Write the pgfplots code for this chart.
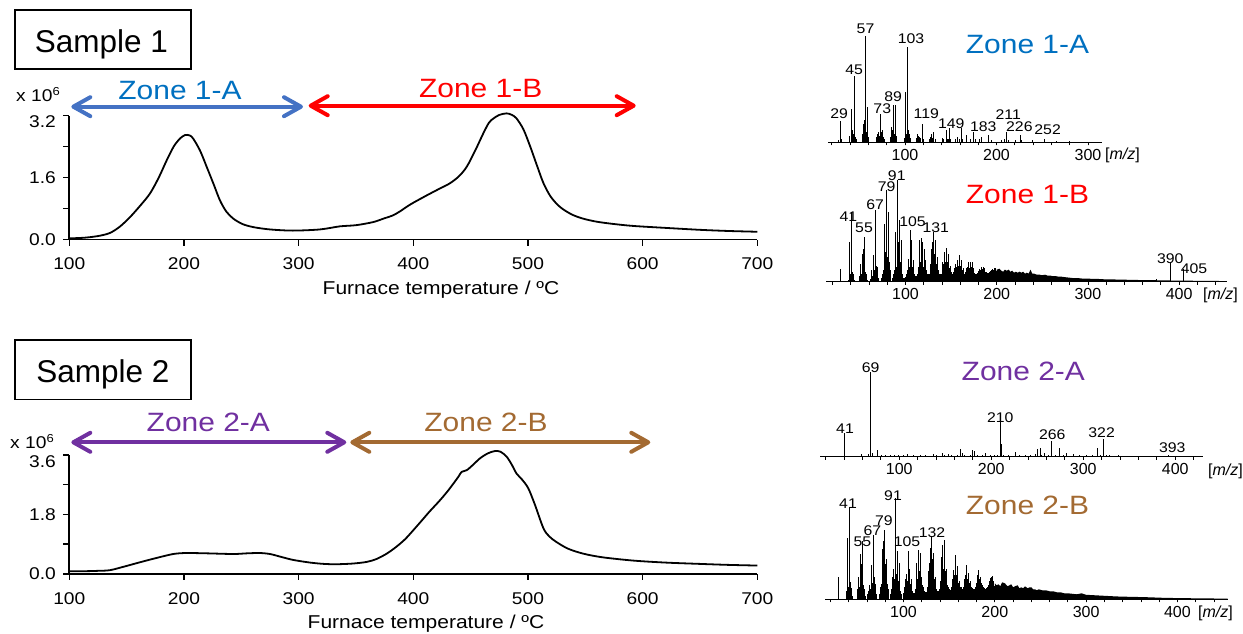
\documentclass[border=0pt]{standalone}
\usepackage{fontspec}
\setmainfont{Liberation Sans}
\newfontfamily\wide[FakeStretch=1.13]{Liberation Sans}
\usepackage{pgfplots}
\pgfplotsset{compat=1.18}
\usetikzlibrary{arrows.meta}

\definecolor{zoneblue}{RGB}{0,112,192}
\definecolor{arrowblue}{RGB}{68,114,196}
\definecolor{zonered}{RGB}{255,0,0}
\definecolor{zonepurple}{RGB}{112,48,160}
\definecolor{zonebrown}{RGB}{163,106,50}

\newcommand{\fs}[1]{\fontsize{#1}{#1}\selectfont}
\newcommand{\low}[2]{\raisebox{-#1}[\height][0pt]{#2}}

\pgfplotsset{
  tga/.style={
    scale only axis, width=688pt, anchor=south west, clip=false,
    xmin=100, xmax=700, ymin=0,
    axis x line=bottom, axis y line=left,
    axis line style={-, line width=1.7pt},
    tick align=outside, major tick length=6pt, minor tick length=6pt,
    tick style={black, line width=1.5pt},
    xtick={100,200,...,700},
    xticklabels={100,200,300,400,500,600,700},
    xticklabel style={anchor=north, inner sep=0pt, yshift=-12.3pt, font=\wide\fs{17}},
    yticklabel style={anchor=east, inner sep=0pt, xshift=-7.3pt, font=\wide\fs{17}},
  },
  ms/.style={
    scale only axis, anchor=south west, ymin=0, clip=false,
    axis x line=bottom, axis y line=none,
    axis line style={-, line width=1.2pt},
    tick align=outside, major tick length=3pt, minor tick length=3pt,
    tick style={black, line width=0.8pt},
    minor xtick={20,40,...,440},
    xticklabel style={anchor=north, inner sep=0pt, yshift=-3.5pt, font=\fs{16}},
  },
  stick/.style={ycomb, black, line width=0.9pt},
}
\tikzset{peak/.style={anchor=base, inner sep=0pt, font=\wide\fs{14}}}

\newcommand{\zone}[4]{\node[anchor=base, inner sep=0pt, font=\wide\fs{26.5}, text=#1] at (#2pt,#3pt) {#4};}
\newcommand{\mz}[2]{\node[anchor=base west, inner sep=0pt, font=\fs{16}] at (#1pt,#2pt) {[\textit{m/z}]};}
\newcommand{\zarrow}[4]{\draw[#1, line width=4pt,
  {Straight Barb[length=17pt,width=19pt,round]}-{Straight Barb[length=17pt,width=19pt,round]}]
  (#2pt,#4pt) -- (#3pt,#4pt);}

\begin{document}
\begin{tikzpicture}
\useasboundingbox (0,0) rectangle (1243pt,633pt);

% ---------------- Sample 1 : evolved gas curve ----------------
\draw[line width=1.6pt] (15pt,563.7pt) rectangle (191pt,623pt);
\node[anchor=base, inner sep=0pt, font=\fs{31.5}] at (101.5pt,580.7pt) {Sample 1};
\node[anchor=base west, inner sep=0pt, font=\wide\fs{17}] at (16pt,531pt) {x 10\raisebox{6pt}{\wide\fs{11.5}6}};
\zone{zoneblue}{180}{533}{Zone 1-A}
\zone{zonered}{480.7}{535.7}{Zone 1-B}
\zarrow{arrowblue}{71.3}{303}{526.3}
\zarrow{zonered}{308.7}{635.7}{527.3}

\begin{axis}[tga, at={(69.3pt,393.5pt)}, height=123.8pt, ymax=3.2,
    ytick={0,1.6,3.2}, yticklabels={0.0,1.6,\low{6pt}{3.2}}, minor ytick={0.8,2.4}]
  \addplot[black, line width=1.8pt, smooth] coordinates {
    (100,0.03) (110,0.04) (118,0.06) (127,0.10) (135.5,0.17) (144,0.33)
    (153,0.58) (162,0.88) (170.4,1.19) (178,1.60) (185,2.05) (191,2.40)
    (196.5,2.61) (201,2.70) (205,2.69) (208,2.61) (214,2.30) (219.8,1.88)
    (226,1.42) (231.4,1.01) (237,0.72) (243,0.54) (251,0.40) (260.5,0.32)
    (275,0.26) (295,0.23) (318.6,0.26) (336,0.34) (350,0.37) (365,0.45)
    (375,0.55) (382,0.62) (388,0.72) (395,0.86) (400,0.95) (411.7,1.14)
    (422,1.30) (431.8,1.45) (440,1.64) (446.6,1.88) (454,2.30) (461,2.74)
    (466,3.02) (470,3.13) (475,3.22) (481.4,3.26) (486,3.22) (490,3.13)
    (496,2.85) (502,2.40) (508,1.90) (513.6,1.45) (520,1.10) (528,0.84)
    (538,0.65) (548,0.54) (560,0.46) (575,0.40) (592,0.35) (620,0.30)
    (650,0.25) (675,0.22) (700,0.20)
  };
\end{axis}
\node[anchor=base, inner sep=0pt, font=\wide\fs{18.6}] at (441pt,338pt) {Furnace temperature / ºC};

% ---------------- Sample 2 : evolved gas curve ----------------
\draw[line width=1.6pt] (15pt,233.7pt) rectangle (191pt,293pt);
\node[anchor=base, inner sep=0pt, font=\fs{31.5}] at (102.8pt,251pt) {Sample 2};
\node[anchor=base west, inner sep=0pt, font=\wide\fs{17}] at (10pt,184.7pt) {x 10\raisebox{6pt}{\wide\fs{11.5}6}};
\zone{zonepurple}{208.3}{202}{Zone 2-A}
\zone{zonebrown}{486}{201.3}{Zone 2-B}
\zarrow{zonepurple}{71.3}{346.3}{190.7}
\zarrow{zonebrown}{350.3}{650.3}{190.7}

\begin{axis}[tga, at={(69.3pt,59.2pt)}, height=118.8pt, ymax=3.6,
    ytick={0,1.8,3.6}, yticklabels={0.0,1.8,\low{7pt}{3.6}}, minor ytick={0.9,2.7}]
  \addplot[black, line width=1.8pt, smooth] coordinates {
    (100,0.08) (115,0.08) (125,0.09) (135.5,0.11) (148,0.22) (161.7,0.35)
    (176,0.48) (190.7,0.60) (202,0.63) (220,0.62) (243,0.60) (255,0.62)
    (266,0.63) (275,0.60) (285,0.51) (295.3,0.42) (310,0.34) (322,0.30)
    (333,0.29) (347,0.31) (359.4,0.36) (368,0.45) (376.8,0.61) (383,0.76)
    (388.4,0.91) (394.3,1.10) (405.8,1.55) (414,1.88) (423.3,2.23) (431,2.55)
    (439.3,2.94) (442.2,3.09) (446.6,3.14) (452,3.30) (458.2,3.50) (465,3.65)
    (471.2,3.72) (476,3.70) (481.4,3.55) (486,3.30) (490,3.04) (495,2.85)
    (500.3,2.59) (506,2.10) (513.6,1.37) (519,1.12) (525,0.96) (535,0.76)
    (548.3,0.61) (565,0.50) (592,0.40) (620,0.34) (650,0.30) (675,0.27)
    (700,0.25)
  };
\end{axis}
\node[anchor=base, inner sep=0pt, font=\wide\fs{18.6}] at (426pt,4.7pt) {Furnace temperature / ºC};

% ---------------- Mass spectrum, Zone 1-A ----------------
\zone{zoneblue}{1027.5}{579.7}{Zone 1-A}
\begin{axis}[ms, at={(828pt,490.7pt)}, width=273.7pt, height=110pt,
    xmin=15.8, xmax=315, ymax=110, xtick={100,200,300}, xticklabels={100,200,300}]
  \addplot[stick] coordinates {
    (27,2) (29,21) (30,3) (39,6) (41,33) (42,8) (43,12) (44,8) (45,66) (46,5) (47,3)
    (53,8) (54,12) (55,18) (56,22) (57,106) (58,10) (59,35) (60,5)
    (69,5) (70,8) (71,10) (72,6) (73,28) (74,10) (75,12) (76,5) (77,3)
    (84,5) (85,15) (86,12) (87,37) (88,8) (89,37) (90,10) (91,6)
    (99,4) (100,10) (101,50) (102,8) (103,95) (104,12) (105,8) (106,4)
    (113,4) (114,8) (115,6) (116,5) (117,4) (119,18) (120,3)
    (127,3) (128,5) (129,8) (130,4) (131,10) (133,3)
    (141,4) (142,3) (145,12) (146,3) (147,3) (149,14) (150,3)
    (155,3) (157,5) (159,3) (162,14) (163,3) (167,7) (171,3) (175,10) (177,3)
    (181,3) (183,5) (184,3) (191,7) (195,2) (205,2) (209,3) (211,10) (213,2)
    (221,2) (226,7.5) (227,2) (239,2) (252,3) (265,1) (280,1)
  };
  \node[peak] at (axis cs:27.9,24) {29};
  \node[peak] at (axis cs:44.4,67.3) {45};
  \node[peak] at (axis cs:56.8,108.3) {57};
  \node[peak] at (axis cs:106.6,99) {103};
  \node[peak] at (axis cs:75.1,29) {73};
  \node[peak] at (axis cs:87.1,40.6) {89};
  \node[peak] at (axis cs:123.3,24) {119};
  \node[peak] at (axis cs:150.6,14) {149};
  \node[peak] at (axis cs:185.5,10.6) {183};
  \node[peak] at (axis cs:212.9,22.3) {211};
  \node[peak] at (axis cs:225,10.6) {226};
  \node[peak] at (axis cs:255.9,7.3) {252};
\end{axis}
\mz{1105}{473}

% ---------------- Mass spectrum, Zone 1-B ----------------
\zone{zonered}{1027.5}{429}{Zone 1-B}
\begin{axis}[ms, at={(826pt,351.3pt)}, width=400.7pt, height=112pt,
    xmin=12.8, xmax=452.2, ymax=112, xtick={100,200,300,400}, xticklabels={100,200,300,400}]
  \addplot[fill=black, draw=none] coordinates {
    (200,12) (203,13) (205,11) (207,10) (209,12) (211,11) (213,12) (215,10)
    (217,11) (219,9) (221,10) (223,9) (225,10) (227,9) (229,10) (231,8)
    (233,9) (235,8) (237,12) (239,8) (241,8) (244,7) (247,7) (250,6.5)
    (253,7) (256,6) (259,6) (262,5.5) (265,5.5) (268,5) (271,5) (275,4.5)
    (280,4) (285,3.5) (290,3.5) (295,3) (300,3) (310,2.8) (320,2.3) (330,2.2)
    (340,2) (350,1.8) (360,1.6) (370,1.6) (380,1.3) (390,1.2) (400,1)
    (410,1) (420,0.9) (435,0.8) (452,0.6)
  } \closedcycle;
  \addplot[stick] coordinates {
    (29,13)
    (37,2) (38,3) (39,40) (40,8) (41,70) (42,10) (43,8) (44,2)
    (49,3) (50,6) (51,18) (52,8) (53,28) (54,33) (55,45) (56,10) (57,8) (58,2)
    (62,3) (63,12) (64,6) (65,27) (66,12) (67,72) (68,16) (69,15) (70,4)
    (74,4) (75,8) (76,12) (77,58) (78,30) (79,92) (80,25) (81,70) (82,20) (83,12) (84,4)
    (86,4) (87,8) (88,12) (89,50) (90,15) (91,102) (92,40) (93,62) (94,20) (95,42) (96,12) (97,8) (98,4)
    (99,4) (100,5) (101,8) (102,12) (103,23) (104,15) (105,52) (106,25) (107,42) (108,15) (109,22) (110,8) (111,6) (112,6)
    (113,8) (114,15) (115,42) (116,20) (117,44) (118,22) (119,40) (120,15) (121,33) (122,22) (123,12) (124,8) (125,8)
    (126,8) (127,18) (128,33) (129,40) (130,22) (131,50) (132,28) (133,42) (134,18) (135,25) (136,12) (137,8) (138,8)
    (139,8) (140,12) (141,20) (142,18) (143,30) (144,20) (145,34) (146,20) (147,28) (148,14) (149,16) (150,10) (151,8) (152,8)
    (153,10) (154,14) (155,18) (156,15) (157,22) (158,16) (159,27) (160,16) (161,22) (162,12) (163,14) (164,9) (165,8)
    (166,10) (167,14) (168,15) (169,20) (170,14) (171,20) (172,15) (173,20) (174,12) (175,14) (176,9) (177,8) (178,8)
    (179,9) (180,11) (181,13) (182,12) (183,15) (184,13) (185,15) (186,12) (187,14) (188,10) (189,10) (190,9) (191,9) (192,10)
    (193,11) (194,12) (195,13) (196,12) (197,14) (198,12) (199,14) (200,11) (201,12)
    (375,3) (390,18.4) (405,12.4)
  };
  \node[peak] at (axis cs:37.3,60) {41};
  \node[peak] at (axis cs:54.5,49) {55};
  \node[peak] at (axis cs:66.6,71.7) {67};
  \node[peak] at (axis cs:79.4,90) {79};
  \node[peak] at (axis cs:90.4,101) {91};
  \node[peak] at (axis cs:107.6,55) {105};
  \node[peak] at (axis cs:133.2,49.4) {131};
  \node[peak] at (axis cs:390.4,18.4) {390};
  \node[peak] at (axis cs:416.3,7.7) {405};
\end{axis}
\mz{1203}{333.7}

% ---------------- Mass spectrum, Zone 2-A ----------------
\zone{zonepurple}{1023.3}{252.3}{Zone 2-A}
\begin{axis}[ms, at={(820pt,176.3pt)}, width=382.7pt, height=92pt,
    xmin=13.9, xmax=429.9, ymax=92, xtick={100,200,300,400}, xticklabels={100,200,300,400}]
  \addplot[stick] coordinates {
    (41,23.3) (59,3) (67,3) (69,85) (71,3.3) (76,6.7) (81,2) (85,1.5) (91,2)
    (95,1.5) (99,2) (105,1.5) (109,2.7) (115,1.5) (123,2) (129,1.5) (137,2.3)
    (141,1.5) (147,4) (149,1.5) (153,2.7) (157,1.5) (163,2) (167,7.3) (169,4)
    (171,2) (177,1.5) (180,6.7) (182,6) (185,2) (191,1.5) (194,3.3) (199,1.5)
    (203,1.5) (207,2) (210,35) (211,12.7) (213,2) (219,1.5) (226,5) (231,1.5)
    (237,1.5) (243,1.5) (248,3) (250,7.7) (253,8.3) (255,2) (258,3.3) (262,2)
    (266,16) (270,2) (274,8.3) (278,2) (282,3.3) (289,2.7) (296,1.5) (303,1.5)
    (310,1.5) (315,8.3) (319,1.5) (322,18) (325,2) (329,2) (338,2) (345,1)
    (358,1) (370,1) (385,1) (393,1.3) (405,0.8)
  };
  \node[peak] at (axis cs:41.1,23.5) {41};
  \node[peak] at (axis cs:69,84) {69};
  \node[peak] at (axis cs:209.9,34.5) {210};
  \node[peak] at (axis cs:266.4,17.5) {266};
  \node[peak] at (axis cs:320,19.3) {322};
  \node[peak] at (axis cs:396.9,4) {393};
\end{axis}
\mz{1208}{158}

% ---------------- Mass spectrum, Zone 2-B ----------------
\zone{zonebrown}{1027.5}{118.7}{Zone 2-B}
\begin{axis}[ms, at={(825pt,33.7pt)}, width=403pt, height=112pt,
    xmin=14.0, xmax=455.4, ymax=112, xtick={100,200,300,400}, xticklabels={100,200,300,400}]
  \addplot[fill=black, draw=none] coordinates {
    (200,16) (202,14) (204,15) (206,13) (208,17) (211,16) (214,13) (216,14)
    (218,15) (220,12) (222,13) (225,14) (227,11) (229,12) (231,11) (233,13)
    (236,11) (238,12) (240,12) (242,10) (244,10) (246,9) (248,10) (252,9)
    (256,9) (260,8) (264,8) (268,7) (272,7) (276,6) (280,6) (285,5.5)
    (290,5) (295,6) (300,4.5) (310,4) (320,3.5) (330,3) (340,2.6) (350,2.5)
    (360,2.2) (370,2) (380,1.6) (390,1.4) (400,1.2) (420,1) (440,0.8) (455,0.6)
  } \closedcycle;
  \addplot[stick] coordinates {
    (29,22)
    (37,3) (38,8) (39,61) (40,12) (41,92) (42,17) (43,11) (44,3)
    (49,4) (50,10) (51,22) (52,12) (53,45) (54,35) (55,58) (56,14) (57,10) (58,3)
    (61,5) (62,8) (63,14) (64,10) (65,34) (66,16) (67,64) (68,22) (69,15) (70,5)
    (74,5) (75,12) (76,15) (77,50) (78,58) (79,69) (80,35) (81,40) (82,15) (83,10) (84,4)
    (86,5) (87,10) (88,22) (89,30) (90,20) (91,101) (92,25) (93,48) (94,18) (95,36) (96,14) (97,8) (98,5)
    (100,6) (101,12) (102,20) (103,25) (104,18) (105,48) (106,30) (107,28) (108,15) (109,20) (110,8) (111,6) (112,6)
    (113,10) (114,36) (115,20) (116,49) (117,28) (118,46) (119,30) (120,22) (121,14) (122,12) (123,8) (124,7) (125,7)
    (126,12) (127,28) (128,36) (129,51) (130,30) (131,63) (132,40) (133,46) (134,20) (135,22) (136,10) (137,8) (138,8)
    (139,10) (140,18) (141,42) (142,30) (143,54) (144,30) (145,59) (146,28) (147,30) (148,14) (149,12) (150,10) (151,9) (152,9)
    (153,12) (154,20) (155,29) (156,24) (157,44) (158,24) (159,33) (160,16) (161,18) (162,12) (163,12) (164,10) (165,10)
    (166,12) (167,20) (168,24) (169,34) (170,20) (171,26) (172,16) (173,18) (174,12) (175,11) (176,10) (177,10) (178,10)
    (179,12) (180,16) (181,24) (182,29) (183,20) (184,22) (185,16) (186,14) (187,12) (188,11) (189,11) (190,10) (191,11) (192,12)
    (193,14) (194,18) (195,21) (196,22) (197,23) (198,18) (199,17) (200,13)
  };
  \node[peak] at (axis cs:39.2,91) {41};
  \node[peak] at (axis cs:54.9,52.6) {55};
  \node[peak] at (axis cs:65.8,64.3) {67};
  \node[peak] at (axis cs:78.6,74.3) {79};
  \node[peak] at (axis cs:88.5,99.3) {91};
  \node[peak] at (axis cs:103.8,52.6) {105};
  \node[peak] at (axis cs:131.2,62) {132};
\end{axis}
\mz{1198}{15.3}

\end{tikzpicture}
\end{document}
